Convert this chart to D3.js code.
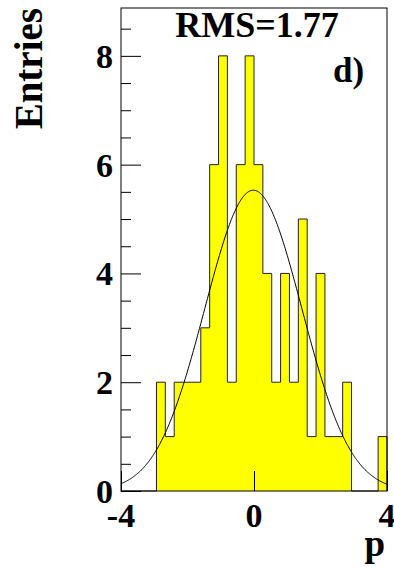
<!DOCTYPE html>
<html>
<head>
<meta charset="utf-8">
<script src="https://cdn.jsdelivr.net/npm/d3@7"></script>
<style>
  html, body { margin: 0; padding: 0; background: #fff; }
  svg { display: block; }
  text { font-family: "Liberation Serif", "Times New Roman", serif; font-weight: bold; fill: #000; }
</style>
</head>
<body>
<svg id="chart" width="394" height="567"></svg>
<script>
// Histogram of p: 30 bins from -4 to 4
const binEdgesRange = [-4, 4];
const binCounts = [0, 0, 0, 0, 2, 1, 2, 2, 2, 3, 6, 8, 2, 6, 8, 6, 4, 2, 4, 2, 5, 1, 4, 1, 1, 2, 0, 0, 0, 1];
const yTickValues = [0, 2, 4, 6, 8];
const xTickValues = [-4, 0, 4];
const yMax = 8.88;
// Gaussian fit parameters: amplitude, mean, sigma
const fitParams = [5.53, -0.02, 1.46];
const rmsLabel = "RMS=1.77";
const panelLabel = "d)";

const svg = d3.select("#chart");
const frame = { left: 121, right: 387, top: 8, bottom: 491 };

const x = d3.scaleLinear().domain(binEdgesRange).range([frame.left, frame.right]);
const y = d3.scaleLinear().domain([0, yMax]).range([frame.bottom, frame.top]);

const nBins = binCounts.length;
const binW = (binEdgesRange[1] - binEdgesRange[0]) / nBins;

// Step outline of the histogram, closed along the baseline
const pts = [[binEdgesRange[0], 0]];
binCounts.forEach((c, i) => {
  const x0 = binEdgesRange[0] + i * binW;
  pts.push([x0, c], [x0 + binW, c]);
});
pts.push([binEdgesRange[1], 0]);

const line = d3.line().x(d => x(d[0])).y(d => y(d[1]));

svg.append("path")
  .attr("d", line(pts))
  .attr("fill", "#ffff00")
  .attr("stroke", "#222")
  .attr("stroke-width", 1);

// Fit curve
const gaus = v => fitParams[0] * Math.exp(-0.5 * ((v - fitParams[1]) / fitParams[2]) ** 2);
const curvePts = d3.range(0, 401).map(i => {
  const v = binEdgesRange[0] + i * (binEdgesRange[1] - binEdgesRange[0]) / 400;
  return [v, gaus(v)];
});
svg.append("path")
  .attr("d", line(curvePts))
  .attr("fill", "none")
  .attr("stroke", "#000")
  .attr("stroke-width", 1);

// Frame
svg.append("rect")
  .attr("x", frame.left).attr("y", frame.top)
  .attr("width", frame.right - frame.left).attr("height", frame.bottom - frame.top)
  .attr("fill", "none").attr("stroke", "#000").attr("stroke-width", 1);

// Y axis: major ticks with labels, minor ticks every 0.5
const yAxis = d3.axisRight(y).tickValues(yTickValues).tickSize(20).tickFormat("");
svg.append("g").attr("transform", `translate(${frame.left},0)`).call(yAxis)
  .call(g => g.select(".domain").remove())
  .call(g => g.selectAll("line").attr("stroke", "#000"));
const yMinor = d3.axisRight(y).tickValues(d3.range(0.5, yMax, 0.5).filter(v => v % 2 !== 0)).tickSize(10).tickFormat("");
svg.append("g").attr("transform", `translate(${frame.left},0)`).call(yMinor)
  .call(g => g.select(".domain").remove())
  .call(g => g.selectAll("line").attr("stroke", "#000"));

svg.append("g").selectAll("text").data(yTickValues).join("text")
  .attr("x", frame.left - 8)
  .attr("y", d => y(d))
  .attr("dy", "0.35em")
  .attr("text-anchor", "end")
  .attr("font-size", 34)
  .text(d => d);

// X axis ticks and labels
const xAxis = d3.axisTop(x).tickValues(xTickValues).tickSize(20).tickFormat("");
svg.append("g").attr("transform", `translate(0,${frame.bottom})`).call(xAxis)
  .call(g => g.select(".domain").remove())
  .call(g => g.selectAll("line").attr("stroke", "#000"));

svg.append("g").selectAll("text").data(xTickValues).join("text")
  .attr("x", d => x(d))
  .attr("y", 527)
  .attr("text-anchor", "middle")
  .attr("font-size", 34)
  .text(d => d);

// Axis titles
svg.append("text")
  .attr("x", 385).attr("y", 556)
  .attr("text-anchor", "end")
  .attr("font-size", 37)
  .text("p");

svg.append("text")
  .attr("transform", "translate(42,8) rotate(-90)")
  .attr("text-anchor", "end")
  .attr("font-size", 39)
  .text("Entries");

// Statistics and panel labels
svg.append("text")
  .attr("x", 257).attr("y", 37)
  .attr("text-anchor", "middle")
  .attr("font-size", 36)
  .text(rmsLabel);

svg.append("text")
  .attr("x", 333).attr("y", 82)
  .attr("font-size", 35)
  .text(panelLabel);
</script>
</body>
</html>
